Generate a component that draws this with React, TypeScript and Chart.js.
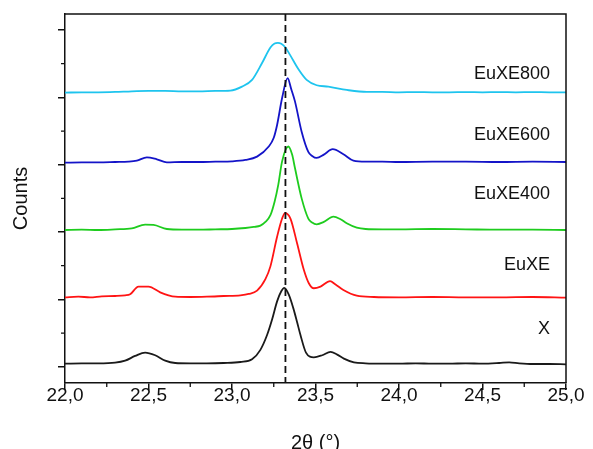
import { useEffect, useRef } from "react";
import { Chart, registerables } from "chart.js";

Chart.register(...registerables);

const FONT = 'Arial, "Liberation Sans", Helvetica, sans-serif';

// Axis ticks
const xMajorTicks = [22, 22.5, 23, 23.5, 24, 24.5, 25];
const xMinorTicks = [22.25, 22.75, 23.25, 23.75, 24.25, 24.75];
const yMajorTicks = [0, 1, 2, 3, 4, 5];
const yMinorTicks = [0.5, 1.5, 2.5, 3.5, 4.5];

// Reference line (2θ position)
const referenceLine = 23.32;

// Series: X
const xX = [22.0, 22.1, 22.2, 22.3, 22.36, 22.42, 22.48, 22.54, 22.6, 22.66, 22.75, 22.85, 22.95, 23.05, 23.12, 23.17, 23.21, 23.24, 23.27, 23.295, 23.313, 23.34, 23.367, 23.39, 23.41, 23.443, 23.49, 23.54, 23.59, 23.63, 23.67, 23.73, 23.8, 23.9, 24.0, 24.1, 24.2, 24.3, 24.4, 24.5, 24.6, 24.66, 24.72, 24.8, 24.9, 25.0];
const yX = [0.045, 0.05, 0.05, 0.06, 0.09, 0.16, 0.21, 0.17, 0.09, 0.055, 0.05, 0.05, 0.055, 0.07, 0.11, 0.25, 0.47, 0.7, 0.97, 1.12, 1.17, 1.07, 0.87, 0.66, 0.47, 0.21, 0.14, 0.17, 0.22, 0.18, 0.12, 0.065, 0.05, 0.045, 0.045, 0.05, 0.045, 0.045, 0.05, 0.045, 0.055, 0.065, 0.05, 0.04, 0.04, 0.035];

// Series: EuXE
const xEuXE = [22.0, 22.08, 22.15, 22.22, 22.3, 22.36, 22.39, 22.44, 22.5, 22.57, 22.62, 22.66, 22.75, 22.85, 22.95, 23.05, 23.1, 23.15, 23.2, 23.23, 23.27, 23.3, 23.317, 23.35, 23.39, 23.43, 23.46, 23.49, 23.53, 23.587, 23.62, 23.667, 23.747, 23.85, 24.0, 24.2, 24.4, 24.6, 24.8, 25.0];
const yEuXE = [1.03, 1.04, 1.03, 1.045, 1.05, 1.06, 1.075, 1.19, 1.19, 1.105, 1.06, 1.04, 1.035, 1.04, 1.05, 1.06, 1.08, 1.13, 1.3, 1.49, 1.93, 2.2, 2.28, 2.2, 1.83, 1.44, 1.24, 1.165, 1.19, 1.27, 1.22, 1.14, 1.055, 1.035, 1.03, 1.035, 1.03, 1.03, 1.035, 1.025];

// Series: EuXE400
const xEuXE400 = [22.0, 22.1, 22.2, 22.3, 22.4, 22.48, 22.53, 22.61, 22.7, 22.8, 22.9, 23.0, 23.08, 23.13, 23.17, 23.2, 23.23, 23.255, 23.277, 23.3, 23.337, 23.36, 23.377, 23.417, 23.457, 23.48, 23.507, 23.55, 23.607, 23.65, 23.687, 23.747, 23.8, 23.9, 24.0, 24.2, 24.4, 24.6, 24.8, 25.0];
const yEuXE400 = [2.03, 2.035, 2.03, 2.04, 2.055, 2.11, 2.105, 2.045, 2.035, 2.035, 2.04, 2.045, 2.06, 2.075, 2.095, 2.15, 2.25, 2.45, 2.7, 3.05, 3.27, 3.15, 2.95, 2.5, 2.2, 2.14, 2.115, 2.15, 2.23, 2.19, 2.13, 2.065, 2.045, 2.04, 2.04, 2.045, 2.04, 2.035, 2.035, 2.03];

// Series: EuXE600
const xEuXE600 = [22.0, 22.1, 22.2, 22.3, 22.38, 22.43, 22.49, 22.55, 22.61, 22.7, 22.8, 22.9, 23.0, 23.08, 23.15, 23.22, 23.25, 23.27, 23.3, 23.333, 23.355, 23.377, 23.417, 23.457, 23.48, 23.507, 23.55, 23.603, 23.667, 23.727, 23.8, 23.9, 24.0, 24.2, 24.4, 24.6, 24.8, 25.0];
const yEuXE600 = [3.03, 3.035, 3.035, 3.04, 3.045, 3.06, 3.11, 3.08, 3.035, 3.04, 3.04, 3.045, 3.05, 3.07, 3.12, 3.27, 3.4, 3.59, 3.99, 4.285, 4.12, 3.94, 3.49, 3.19, 3.13, 3.1, 3.15, 3.23, 3.155, 3.06, 3.045, 3.045, 3.04, 3.045, 3.045, 3.04, 3.045, 3.04];

// Series: EuXE800
const xEuXE800 = [22.0, 22.1, 22.2, 22.3, 22.4, 22.5, 22.6, 22.7, 22.8, 22.9, 22.99, 23.06, 23.12, 23.18, 23.23, 23.255, 23.275, 23.295, 23.32, 23.35, 23.4, 23.447, 23.507, 23.577, 23.687, 23.807, 23.9, 24.0, 24.1, 24.2, 24.3, 24.4, 24.5, 24.6, 24.7, 24.8, 24.9, 25.0];
const yEuXE800 = [4.07, 4.075, 4.075, 4.08, 4.09, 4.095, 4.095, 4.09, 4.09, 4.095, 4.1, 4.16, 4.26, 4.51, 4.74, 4.8, 4.81, 4.795, 4.74, 4.62, 4.41, 4.26, 4.18, 4.16, 4.11, 4.08, 4.08, 4.075, 4.078, 4.075, 4.075, 4.078, 4.075, 4.078, 4.075, 4.078, 4.075, 4.075];

const seriesNames = ["X", "EuXE", "EuXE400", "EuXE600", "EuXE800"];
const seriesX = [xX, xEuXE, xEuXE400, xEuXE600, xEuXE800];
const seriesY = [yX, yEuXE, yEuXE400, yEuXE600, yEuXE800];
const seriesColors = ["#1a1a1a", "#ff1414", "#1ecc1e", "#1414c8", "#1ec4ee"];

// Label anchors (data coordinates, right-aligned)
const labelX = 24.904;
const labelY = [0.56, 1.51, 2.56, 3.44, 4.35];

const fmt = (v: number) => v.toFixed(1).replace(".", ",");

export default function App() {
  const ref = useRef<HTMLCanvasElement>(null);

  useEffect(() => {
    const canvas = ref.current;
    if (!canvas) return;

    const datasets = seriesNames.map((name, i) => ({
      label: name,
      data: seriesX[i].map((x, j) => ({ x, y: seriesY[i][j] })),
      borderColor: seriesColors[i],
      backgroundColor: seriesColors[i],
      borderWidth: 1.8,
      pointRadius: 0,
      cubicInterpolationMode: "monotone" as const,
      fill: false,
    }));

    const decor = {
      id: "decor",
      afterDatasetsDraw(chart: any) {
        const { ctx, chartArea, scales } = chart;
        const xs = scales.x;
        const ys = scales.y;
        ctx.save();
        // dashed reference line
        const rx = xs.getPixelForValue(referenceLine);
        ctx.strokeStyle = "#111";
        ctx.lineWidth = 1.8;
        ctx.setLineDash([7, 4]);
        ctx.beginPath();
        ctx.moveTo(rx, chartArea.top);
        ctx.lineTo(rx, chartArea.bottom);
        ctx.stroke();
        ctx.setLineDash([]);
        // frame top/right
        ctx.lineWidth = 1.5;
        ctx.beginPath();
        ctx.moveTo(chartArea.left, chartArea.top);
        ctx.lineTo(chartArea.right, chartArea.top);
        ctx.lineTo(chartArea.right, chartArea.bottom);
        ctx.stroke();
        // minor ticks
        ctx.lineWidth = 1.3;
        ctx.beginPath();
        xMinorTicks.forEach((v) => {
          const p = xs.getPixelForValue(v);
          ctx.moveTo(p, chartArea.bottom);
          ctx.lineTo(p, chartArea.bottom + 4);
        });
        yMinorTicks.forEach((v) => {
          const p = ys.getPixelForValue(v);
          ctx.moveTo(chartArea.left, p);
          ctx.lineTo(chartArea.left - 4, p);
        });
        ctx.stroke();
        // series labels
        ctx.fillStyle = "#111";
        ctx.font = `18px ${FONT}`;
        ctx.textAlign = "right";
        ctx.textBaseline = "middle";
        seriesNames.forEach((name, i) => {
          ctx.fillText(name, xs.getPixelForValue(labelX), ys.getPixelForValue(labelY[i]));
        });
        ctx.restore();
      },
    };

    const chart = new Chart(canvas, {
      type: "line",
      data: { datasets },
      options: {
        responsive: false,
        animation: false,
        devicePixelRatio: 1,
        layout: { padding: { top: 14, right: 27, left: 0, bottom: 0 } },
        plugins: { legend: { display: false }, tooltip: { enabled: false } },
        scales: {
          x: {
            type: "linear",
            min: 22,
            max: 25,
            afterBuildTicks: (s: any) => {
              s.ticks = xMajorTicks.map((v) => ({ value: v }));
            },
            afterFit: (s: any) => {
              s.height = 66;
            },
            ticks: {
              callback: (v: any) => fmt(Number(v)),
              font: { family: FONT, size: 19 },
              color: "#111",
              padding: -6,
              maxRotation: 0,
              autoSkip: false,
            },
            grid: { drawOnChartArea: false, drawTicks: true, tickLength: 7, color: "#111", lineWidth: 1.5 },
            border: { display: true, color: "#111", width: 1.5 },
            title: {
              display: true,
              text: "2θ (°)",
              font: { family: FONT, size: 20, lineHeight: 1 },
              color: "#111",
              padding: { top: 0, bottom: -4 },
            },
          },
          y: {
            type: "linear",
            min: -0.242,
            max: 5.238,
            afterBuildTicks: (s: any) => {
              s.ticks = yMajorTicks.map((v) => ({ value: v }));
            },
            afterFit: (s: any) => {
              s.width = 65;
            },
            ticks: { display: false },
            grid: { drawOnChartArea: false, drawTicks: true, tickLength: 7, color: "#111", lineWidth: 1.5 },
            border: { display: true, color: "#111", width: 1.5 },
            title: {
              display: true,
              text: "Counts",
              font: { family: FONT, size: 20 },
              color: "#111",
              padding: { top: 9, bottom: 0 },
            },
          },
        },
      },
      plugins: [decor],
    });

    return () => chart.destroy();
  }, []);

  return (
    <div style={{ position: "fixed", left: 0, top: 0, width: 593, height: 449, background: "#fff" }}>
      <canvas ref={ref} width={593} height={449} style={{ display: "block" }} />
    </div>
  );
}
